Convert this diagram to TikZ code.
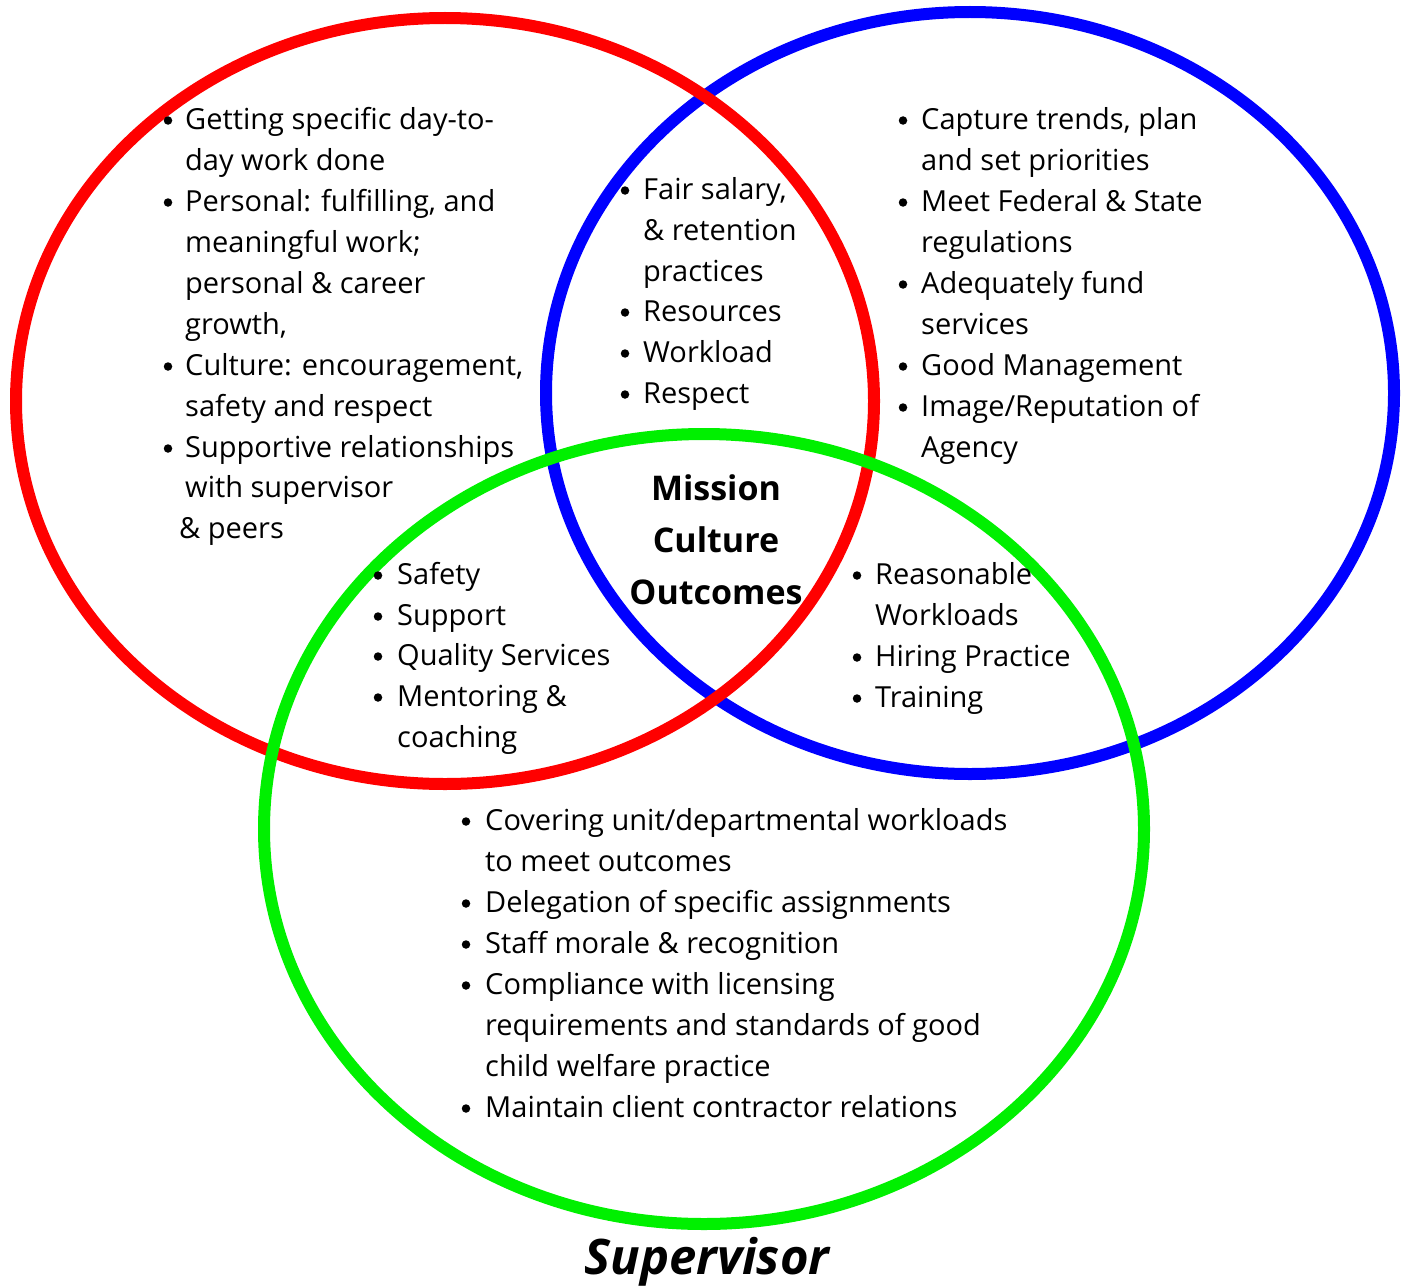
\documentclass[tikz,border=0pt]{standalone}
\usepackage{fontspec}
\setmainfont{Open Sans}
\definecolor{ringred}{RGB}{255,0,0}
\definecolor{ringblue}{RGB}{0,0,255}
\definecolor{ringgreen}{RGB}{0,240,0}
\begin{document}
\begin{tikzpicture}[x=1pt,y=-1pt,
  ring/.style={line width=12pt},
  txt/.style={anchor=base west, inner sep=0pt, font=\fontsize{29}{35}\selectfont},
  dot/.style={circle, fill=black, inner sep=0pt, minimum size=8.5pt, yshift=8.5pt},
  core/.style={anchor=base, inner sep=0pt, font=\bfseries\fontsize{34}{40}\selectfont},
  label/.style={anchor=base, inner sep=0pt, font=\bfseries\itshape\fontsize{49}{54}\selectfont}]
\useasboundingbox (0,0) rectangle (1404,1287);

% the three overlapping rings
\draw[ring, ringblue]  (970,393) ellipse [x radius=424, y radius=381];
\draw[ring, ringred]   (445,401) ellipse [x radius=429, y radius=383];
\draw[ring, ringgreen] (704,829) ellipse [x radius=440, y radius=395];

% left ring only
\node[dot] (ab1) at (168,129) {};
\node[txt] (a1) at (185,129) {Getting specific day-to-};
\node[txt] (a2) at (185,170) {day work done};
\node[dot] (ab2) at (168,211) {};
\node[txt] (a3) at (185,211) {Personal: fulfilling, and};
\node[txt] (a4) at (185,252) {meaningful work;};
\node[txt] (a5) at (185,293) {personal \& career};
\node[txt] (a6) at (185,334) {growth,};
\node[dot] (ab3) at (168,375) {};
\node[txt] (a7) at (185,375) {Culture: encouragement,};
\node[txt] (a8) at (185,416) {safety and respect};
\node[dot] (ab4) at (168,457) {};
\node[txt] (a9) at (185,457) {Supportive relationships};
\node[txt] (a10) at (185,497) {with supervisor};
\node[txt] (a11) at (179,538) {\& peers};

% left and right rings
\node[dot] (bb1) at (625,199) {};
\node[txt] (b1) at (643,199) {Fair salary,};
\node[txt] (b2) at (643,240) {\& retention};
\node[txt] (b3) at (643,281) {practices};
\node[dot] (bb2) at (625,321) {};
\node[txt] (b4) at (643,321) {Resources};
\node[dot] (bb3) at (625,362) {};
\node[txt] (b5) at (643,362) {Workload};
\node[dot] (bb4) at (625,403) {};
\node[txt] (b6) at (643,403) {Respect};

% right ring only
\node[dot] (cb1) at (903,129) {};
\node[txt] (c1) at (921,129) {Capture trends, plan};
\node[txt] (c2) at (921,170) {and set priorities};
\node[dot] (cb2) at (903,211) {};
\node[txt] (c3) at (921,211) {Meet Federal \& State};
\node[txt] (c4) at (921,252) {regulations};
\node[dot] (cb3) at (903,293) {};
\node[txt] (c5) at (921,293) {Adequately fund};
\node[txt] (c6) at (921,334) {services};
\node[dot] (cb4) at (903,375) {};
\node[txt] (c7) at (921,375) {Good Management};
\node[dot] (cb5) at (903,416) {};
\node[txt] (c8) at (921,416) {Image/Reputation of};
\node[txt] (c9) at (921,457) {Agency};

% shared by all three
\node[core] (m1) at (716,500) {Mission};
\node[core] (m2) at (716,552) {Culture};
\node[core] (m3) at (716,604) {Outcomes};

% left and lower rings
\node[dot] (db1) at (378,584) {};
\node[txt] (d1) at (397,584) {Safety};
\node[dot] (db2) at (378,625) {};
\node[txt] (d2) at (397,625) {Support};
\node[dot] (db3) at (378,665) {};
\node[txt] (d3) at (397,665) {Quality Services};
\node[dot] (db4) at (378,706) {};
\node[txt] (d4) at (397,706) {Mentoring \&};
\node[txt] (d5) at (397,747) {coaching};

% right and lower rings
\node[dot] (eb1) at (857,584) {};
\node[txt] (e1) at (875,584) {Reasonable};
\node[txt] (e2) at (875,625) {Workloads};
\node[dot] (eb2) at (857,666) {};
\node[txt] (e3) at (875,666) {Hiring Practice};
\node[dot] (eb3) at (857,707) {};
\node[txt] (e4) at (875,707) {Training};

% lower ring only
\node[dot] (fb1) at (466,830) {};
\node[txt] (f1) at (485,830) {Covering unit/departmental workloads};
\node[txt] (f2) at (485,871) {to meet outcomes};
\node[dot] (fb2) at (466,912) {};
\node[txt] (f3) at (485,912) {Delegation of specific assignments};
\node[dot] (fb3) at (466,953) {};
\node[txt] (f4) at (485,953) {Staff morale \& recognition};
\node[dot] (fb4) at (466,994) {};
\node[txt] (f5) at (485,994) {Compliance with licensing};
\node[txt] (f6) at (485,1035) {requirements and standards of good};
\node[txt] (f7) at (485,1076) {child welfare practice};
\node[dot] (fb5) at (466,1117) {};
\node[txt] (f8) at (485,1117) {Maintain client contractor relations};

% ring title
\node[label] (sup) at (707,1274) {Supervisor};
\end{tikzpicture}
\end{document}
